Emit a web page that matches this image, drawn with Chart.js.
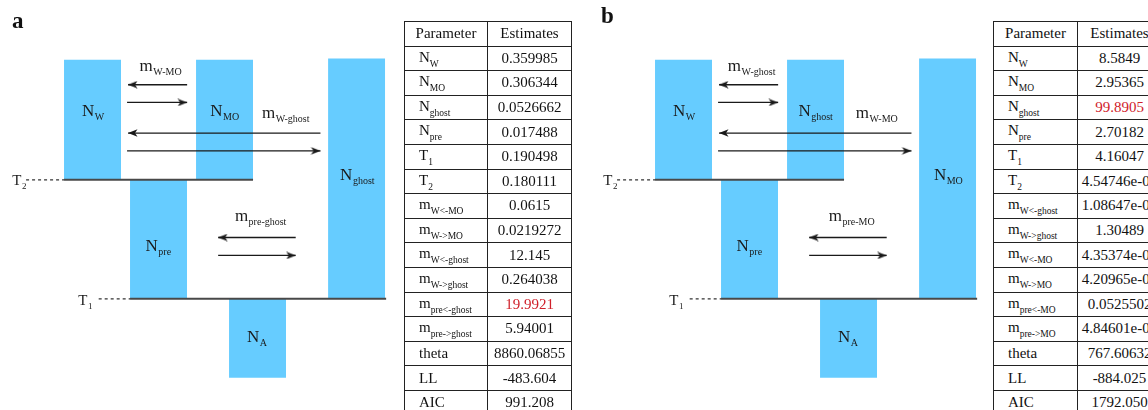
<!DOCTYPE html>
<html>
<head>
<meta charset="utf-8">
<script src="https://cdn.jsdelivr.net/npm/chart.js@4.4.1/dist/chart.umd.min.js"></script>
<style>
  html, body { margin:0; padding:0; background:#fff; width:1148px; height:410px; overflow:hidden; }
  body { position:relative; font-family:"Liberation Serif", "DejaVu Serif", serif; color:#111; }
  canvas.panel { position:absolute; top:0; }
  .lbl { position:absolute; font-weight:bold; font-size:23px; font-family:"Liberation Serif", serif; }
  table.est { position:absolute; top:21px; border-collapse:collapse; font-size:15px; table-layout:fixed; }
  table.est td { border:1.5px solid #222; height:23.6px; padding:0; white-space:nowrap; overflow:hidden; }
  table.est td.p { text-align:left; padding-left:14px; }
  table.est td.v { text-align:center; }
  table.est tr.h td { text-align:center; padding-left:0; }
  table.est sub { font-size:9.5px; vertical-align:-4.5px; }
  .red { color:#d0202a; }
</style>
</head>
<body>
<canvas id="ca" class="panel" width="400" height="410" style="left:0px"></canvas>
<canvas id="cb" class="panel" width="400" height="410" style="left:591px"></canvas>
<div class="lbl" style="left:12px;top:8px">a</div>
<div class="lbl" style="left:601px;top:3px">b</div>
<table class="est" id="ta" style="left:404px;width:167px"><colgroup><col style="width:83px"><col style="width:84px"></colgroup></table>
<table class="est" id="tb" style="left:993px;width:168px"><colgroup><col style="width:84px"><col style="width:84px"></colgroup></table>
<script>
// ---------- model layout (in model units: x = lane units, y = time units, 0 = present, 1 = T2, 2 = T1) ----------
const popX0     = [0,     4,     8,     2,     5    ];
const popX1     = [1.727, 5.727, 9.73,  3.727, 6.727];
const popTop    = [0,     0,     -0.01, 1.004, 2.0  ];
const popBottom = [1.004, 1.004, 2.0,   2.0,   2.66 ];

// panel-specific population names [main, subscript]
const popNamesA = [["N","W"],["N","MO"],["N","ghost"],["N","pre"],["N","A"]];
const popNamesB = [["N","W"],["N","ghost"],["N","MO"],["N","pre"],["N","A"]];
const popLabelX = [0.87, 4.86, 8.88, 2.85, 5.84];
const popLabelY = [0.47, 0.47, 1.01, 1.60, 2.36];

// migration arrows: start x, end (tip) x, y
const arrowFrom = [3.73, 1.91, 7.77, 1.91, 7.02, 4.67];
const arrowTo   = [1.94, 3.73, 1.94, 7.77, 4.67, 7.02];
const arrowY    = [0.209, 0.357, 0.613, 0.762, 1.487, 1.637];

// migration labels
const migNamesA = [["m","W-MO"],["m","W-ghost"],["m","pre-ghost"]];
const migNamesB = [["m","W-ghost"],["m","W-MO"],["m","pre-MO"]];
const migLabelX = [2.92, 6.71, 5.95];
const migLabelY = [0.09, 0.49, 1.35];

// split times
const timeNames  = [["T","2"],["T","1"]];
const timeY      = [1.004, 2.0];
const timeSolidX0 = [0, 2];
const timeSolidX1 = [5.727, 9.76];
const timeDotX0   = [-1.15, 1.05];
const timeLabelX  = [-1.36, 0.64];
const timeLabelY  = [1.045, 2.05];

// ---------- tables ----------
const paramsA = [["N","W"],["N","MO"],["N","ghost"],["N","pre"],["T","1"],["T","2"],["m","W<-MO"],["m","W->MO"],["m","W<-ghost"],["m","W->ghost"],["m","pre<-ghost"],["m","pre->ghost"],["theta",""],["LL",""],["AIC",""]];
const valuesA = ["0.359985","0.306344","0.0526662","0.017488","0.190498","0.180111","0.0615","0.0219272","12.145","0.264038","19.9921","5.94001","8860.06855","-483.604","991.208"];
const highlightA = [10];
const paramsB = [["N","W"],["N","MO"],["N","ghost"],["N","pre"],["T","1"],["T","2"],["m","W<-ghost"],["m","W->ghost"],["m","W<-MO"],["m","W->MO"],["m","pre<-MO"],["m","pre->MO"],["theta",""],["LL",""],["AIC",""]];
const valuesB = ["8.5849","2.95365","99.8905","2.70182","4.16047","4.54746e-04","1.08647e-03","1.30489","4.35374e-04","4.20965e-04","0.0525502","4.84601e-05","767.60632","-884.025","1792.050"];
const highlightB = [2];

function esc(s){ return s.replace(/&/g,"&amp;").replace(/</g,"&lt;").replace(/>/g,"&gt;"); }
function buildTable(id, params, values, hl){
  const t = document.getElementById(id);
  let html = '<tr class="h"><td>Parameter</td><td>Estimates</td></tr>';
  params.forEach((p,i)=>{
    const name = esc(p[0]) + (p[1] ? '<sub>'+esc(p[1])+'</sub>' : '');
    html += '<tr><td class="p">'+name+'</td><td class="v'+(hl.includes(i)?' red':'')+'">'+esc(values[i])+'</td></tr>';
  });
  t.insertAdjacentHTML('beforeend', html);
}
buildTable('ta', paramsA, valuesA, highlightA);
buildTable('tb', paramsB, valuesB, highlightB);

// ---------- arrowhead image ----------
function makeHead(){
  const c = document.createElement('canvas');
  c.width = 20; c.height = 8;
  const g = c.getContext('2d');
  g.fillStyle = '#1a1a1a';
  g.beginPath();
  g.moveTo(10, 4);   // tip at centre
  g.lineTo(0.5, 0.3);
  g.lineTo(3, 4);
  g.lineTo(0.5, 7.7);
  g.closePath();
  g.fill();
  return c;
}
const head = makeHead();

const BLUE = '#66ccff';
const FONT = '"Liberation Serif", "DejaVu Serif", serif';

const subLabels = {
  id: 'subLabels',
  afterDatasetsDraw(chart, args, opts) {
    const {ctx, scales:{x,y}} = chart;
    ctx.save();
    ctx.fillStyle = '#1a1a1a';
    ctx.textBaseline = 'alphabetic';
    opts.items.forEach(it => {
      const px = x.getPixelForValue(it.x), py = y.getPixelForValue(it.y);
      ctx.font = it.size + 'px ' + FONT;
      const w1 = ctx.measureText(it.main).width;
      ctx.font = it.sub_size + 'px ' + FONT;
      const w2 = ctx.measureText(it.sub).width;
      const left = px - (w1 + w2) / 2;
      ctx.font = it.size + 'px ' + FONT;
      ctx.fillText(it.main, left, py);
      ctx.font = it.sub_size + 'px ' + FONT;
      ctx.fillText(it.sub, left + w1 + 0.5, py + it.drop);
    });
    ctx.restore();
  }
};

function buildPanel(canvasId, popNames, migNames){
  const datasets = [];
  // population blocks
  popX0.forEach((x0,i)=>{
    datasets.push({
      data:[{x:x0,y:popTop[i]},{x:popX1[i],y:popTop[i]}],
      showLine:true, borderWidth:0, pointRadius:0,
      backgroundColor:BLUE, fill:{value:popBottom[i]}, order:10
    });
  });
  // split-time solid lines
  timeY.forEach((ty,i)=>{
    datasets.push({
      data:[{x:timeSolidX0[i],y:ty},{x:timeSolidX1[i],y:ty}],
      showLine:true, borderColor:'#484848', borderWidth:2, pointRadius:0, fill:false, order:5
    });
    datasets.push({
      data:[{x:timeDotX0[i],y:ty},{x:timeSolidX0[i],y:ty}],
      showLine:true, borderColor:'#333', borderWidth:1.2, borderDash:[3,3], pointRadius:0, fill:false, order:5
    });
  });
  // migration arrows
  arrowFrom.forEach((xf,i)=>{
    const right = arrowTo[i] > xf;
    datasets.push({
      data:[{x:xf,y:arrowY[i]},{x:arrowTo[i],y:arrowY[i]}],
      showLine:true, borderColor:'#1a1a1a', borderWidth:1.3, fill:false,
      pointStyle:head, pointRadius:[0,5], rotation:right?0:180, order:1
    });
  });
  const items = [];
  popNames.forEach((n,i)=>items.push({main:n[0],sub:n[1],x:popLabelX[i],y:popLabelY[i],size:17,sub_size:10,drop:4}));
  migNames.forEach((n,i)=>items.push({main:n[0],sub:n[1],x:migLabelX[i],y:migLabelY[i],size:17,sub_size:10,drop:4}));
  timeNames.forEach((n,i)=>items.push({main:n[0],sub:n[1],x:timeLabelX[i],y:timeLabelY[i],size:15,sub_size:9,drop:4}));

  new Chart(document.getElementById(canvasId), {
    type:'scatter',
    data:{datasets},
    options:{
      responsive:false, animation:false, events:[],
      layout:{padding:0, autoPadding:false},
      scales:{
        x:{type:'linear', display:false, min:-1.94, max:10.18},
        y:{type:'linear', display:false, reverse:true, min:-0.5, max:2.93}
      },
      plugins:{ legend:{display:false}, tooltip:{enabled:false}, subLabels:{items} }
    },
    plugins:[subLabels]
  });
}
buildPanel('ca', popNamesA, migNamesA);
buildPanel('cb', popNamesB, migNamesB);
</script>
</body>
</html>
